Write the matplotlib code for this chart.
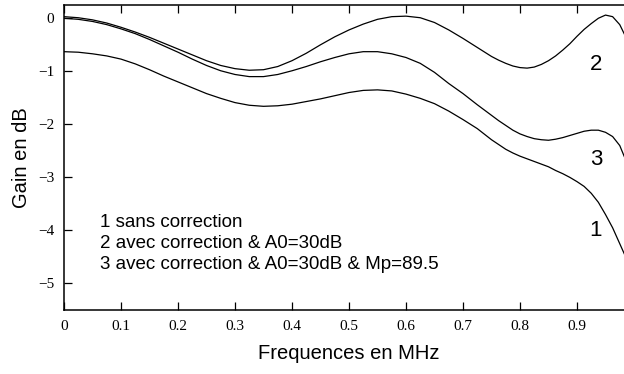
import numpy as np
import matplotlib
matplotlib.use("Agg")
import matplotlib.pyplot as plt

# frequency points (MHz), finer where the curves bend sharply
freq = [0, 0.025, 0.05, 0.075, 0.1, 0.125, 0.15, 0.175, 0.2, 0.225,
        0.25, 0.275, 0.3, 0.325, 0.35, 0.375, 0.4, 0.425, 0.45, 0.475,
        0.5, 0.525, 0.55, 0.575, 0.6, 0.625, 0.65, 0.675, 0.7, 0.725,
        0.75, 0.7625, 0.775, 0.7875, 0.8, 0.8125, 0.825, 0.8375, 0.85,
        0.8625, 0.875, 0.8875, 0.9, 0.9125, 0.925, 0.9375, 0.95, 0.9625,
        0.975, 0.985]

# 1 sans correction
gain_1 = [-0.63, -0.64, -0.67, -0.71, -0.77, -0.86, -0.97, -1.09, -1.20, -1.31,
          -1.42, -1.51, -1.59, -1.64, -1.66, -1.65, -1.62, -1.57, -1.52, -1.46,
          -1.40, -1.36, -1.35, -1.37, -1.43, -1.51, -1.61, -1.75, -1.91, -2.08,
          -2.29, -2.38, -2.47, -2.54, -2.60, -2.65, -2.70, -2.75, -2.80,
          -2.87, -2.93, -3.00, -3.08, -3.17, -3.30, -3.47, -3.70, -3.95,
          -4.25, -4.49]

# 2 avec correction & A0=30dB
gain_2 = [0.03, 0.01, -0.03, -0.09, -0.17, -0.26, -0.36, -0.47, -0.58, -0.69,
          -0.80, -0.89, -0.95, -0.98, -0.97, -0.91, -0.80, -0.66, -0.50, -0.35,
          -0.22, -0.11, -0.02, 0.03, 0.04, 0.01, -0.08, -0.22, -0.38, -0.55,
          -0.72, -0.79, -0.85, -0.90, -0.93, -0.94, -0.92, -0.87, -0.80,
          -0.71, -0.60, -0.48, -0.34, -0.21, -0.10, 0.00, 0.06, 0.03,
          -0.12, -0.34]

# 3 avec correction & A0=30dB & Mp=89.5
gain_3 = [0.0, -0.02, -0.06, -0.12, -0.20, -0.29, -0.40, -0.52, -0.64, -0.77,
          -0.89, -0.99, -1.06, -1.10, -1.10, -1.06, -0.99, -0.91, -0.82, -0.74,
          -0.67, -0.63, -0.63, -0.67, -0.74, -0.85, -1.02, -1.23, -1.42, -1.63,
          -1.83, -1.93, -2.02, -2.11, -2.18, -2.23, -2.27, -2.29, -2.30,
          -2.28, -2.25, -2.21, -2.17, -2.13, -2.11, -2.11, -2.15, -2.23,
          -2.40, -2.66]

xtick_vals = [0, 0.1, 0.2, 0.3, 0.4, 0.5, 0.6, 0.7, 0.8, 0.9]
xtick_labels = ["0", "0.1", "0.2", "0.3", "0.4", "0.5", "0.6", "0.7", "0.8", "0.9"]
ytick_vals = [-5, -4, -3, -2, -1, 0]
ytick_labels = ["\u22125", "\u22124", "\u22123", "\u22122", "\u22121", "0"]

legend_lines = ["1 sans correction",
                "2 avec correction & A0=30dB",
                "3 avec correction & A0=30dB & Mp=89.5"]

fig = plt.figure(figsize=(6.24, 3.74), dpi=100)
# axes runs a bit past the right edge of the figure, like the original
ax = fig.add_axes([64 / 624, 1 - 310 / 374, 570 / 624, 305 / 374])

for g in (gain_1, gain_2, gain_3):
    ax.plot(freq, g, color="black", lw=0.9)

ax.set_xlim(0, 1)
ax.set_ylim(-5.5, 0.25)

ax.set_xticks(xtick_vals)
ax.set_xticklabels(xtick_labels, family="Liberation Serif", fontsize=11)
ax.set_yticks(ytick_vals)
ax.set_yticklabels(ytick_labels, family="Liberation Serif", fontsize=11)
ax.tick_params(direction="in", length=5.5, width=0.9, top=True, right=True)
ax.tick_params(axis="x", pad=7)
ax.tick_params(axis="y", pad=7)
for s in ax.spines.values():
    s.set_linewidth(1.1)

ax.set_xlabel("Frequences en MHz", family="Liberation Sans", fontsize=14.5, labelpad=8)
ax.set_ylabel("Gain en dB", family="Liberation Sans", fontsize=14.5, labelpad=5)

# curve numbers
ax.text(0.933, -0.88, "2", family="Liberation Sans", fontsize=16, ha="center", va="center")
ax.text(0.933, -2.66, "3", family="Liberation Sans", fontsize=16, ha="center", va="center")
ax.text(0.933, -4.01, "1", family="Liberation Sans", fontsize=16, ha="center", va="center")

# legend text block
for i, line in enumerate(legend_lines):
    ax.text(0.063, -3.85 - i * 0.4, line, family="Liberation Sans", fontsize=13.5,
            ha="left", va="center")

fig.savefig("out.png", dpi=100)
